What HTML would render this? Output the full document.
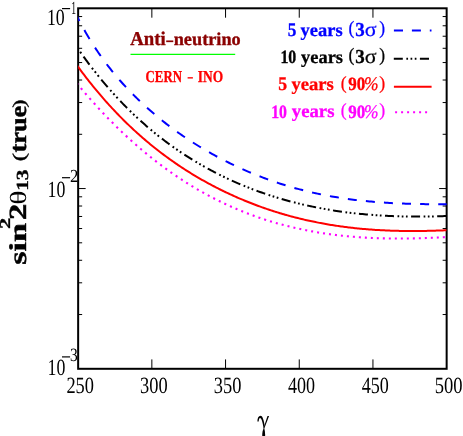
<!DOCTYPE html>
<html><head><meta charset="utf-8"><title>sensitivity plot</title>
<style>html,body{margin:0;padding:0;background:#fff}svg{display:block}text{font-family:"Liberation Serif",serif;text-rendering:geometricPrecision}</style></head>
<body>
<svg width="463" height="436" viewBox="0 0 463 436">
<rect width="463" height="436" fill="#fff"/>
<defs><clipPath id="c"><rect x="78.15" y="8.3" width="368.50" height="360.50"/></clipPath></defs>
<path d="M78.15 188.55h7.5M446.65 188.55h-7.5M78.15 134.29h4M446.65 134.29h-4M78.15 102.55h4M446.65 102.55h-4M78.15 80.03h4M446.65 80.03h-4M78.15 62.56h4M446.65 62.56h-4M78.15 48.29h4M446.65 48.29h-4M78.15 36.22h4M446.65 36.22h-4M78.15 25.77h4M446.65 25.77h-4M78.15 16.55h4M446.65 16.55h-4M78.15 314.54h4M446.65 314.54h-4M78.15 282.80h4M446.65 282.80h-4M78.15 260.28h4M446.65 260.28h-4M78.15 242.81h4M446.65 242.81h-4M78.15 228.54h4M446.65 228.54h-4M78.15 216.47h4M446.65 216.47h-4M78.15 206.02h4M446.65 206.02h-4M78.15 196.80h4M446.65 196.80h-4M151.85 8.3v9.4M151.85 368.8v-9.4M225.55 8.3v9.4M225.55 368.8v-9.4M299.25 8.3v9.4M299.25 368.8v-9.4M372.95 8.3v9.4M372.95 368.8v-9.4" stroke="#000" stroke-width="1" fill="none"/>
<rect x="78.15" y="8.3" width="368.50" height="360.50" fill="none" stroke="#000" stroke-width="2"/>
<g clip-path="url(#c)" fill="none" stroke-width="2">
<path d="M68.24 72.63 L69.62 74.36 M72.39 77.83 L73.08 78.69 L73.78 79.55 M76.58 82.98 L77.28 83.83 L77.99 84.68 M80.82 88.07 L81.53 88.92 L82.24 89.76 M85.10 93.11 L85.82 93.95 L86.54 94.78 M89.43 98.09 L90.16 98.92 L90.89 99.74 M93.81 103.02 L94.55 103.83 L95.28 104.64 M98.24 107.88 L98.98 108.68 L99.73 109.48 M102.71 112.67 L103.46 113.47 L104.22 114.26 M107.24 117.41 L107.99 118.19 L108.75 118.97 M111.81 122.07 L112.57 122.84 L113.34 123.61 M116.43 126.66 L117.20 127.42 L117.98 128.18 M121.09 131.19 L121.88 131.93 L122.66 132.68 M125.81 135.64 L126.60 136.37 L127.40 137.10 M130.58 140.01 L131.38 140.73 L132.18 141.45 M135.39 144.31 L136.20 145.01 L137.01 145.72 M140.26 148.52 L141.07 149.22 L141.89 149.91 M145.17 152.65 L145.99 153.33 L146.82 154.01 M150.13 156.70 L150.96 157.37 L151.80 158.03 M155.14 160.67 L155.98 161.32 L156.82 161.97 M160.20 164.54 L161.05 165.18 L161.90 165.81 M165.30 168.32 L166.16 168.95 L167.02 169.56 M170.45 172.02 L171.32 172.62 L172.18 173.23 M175.65 175.61 L176.52 176.20 L177.39 176.79 M180.89 179.12 L181.77 179.69 L182.65 180.26 M186.18 182.52 L187.07 183.08 L187.95 183.63 M191.51 185.83 L192.40 186.37 L193.30 186.91 M196.88 189.03 L197.78 189.56 L198.68 190.08 M202.30 192.13 L203.20 192.64 L204.11 193.15 M207.75 195.14 L208.66 195.63 L209.58 196.11 M213.24 198.03 L214.16 198.50 L215.08 198.97 M218.78 200.82 L219.70 201.28 L220.63 201.73 M224.34 203.51 L225.27 203.95 L226.21 204.38 M229.94 206.09 L230.88 206.51 L231.82 206.93 M235.58 208.56 L236.52 208.97 L237.46 209.37 M241.24 210.93 L242.19 211.32 L243.14 211.70 M246.94 213.19 L247.89 213.56 L248.85 213.92 M252.67 215.35 L253.62 215.70 L254.58 216.04 M258.42 217.40 L259.38 217.73 L260.34 218.06 M264.19 219.34 L265.16 219.65 L266.13 219.96 M270.00 221.18 L270.96 221.47 L271.93 221.77 M275.82 222.91 L276.79 223.19 L277.76 223.47 M281.66 224.54 L283.61 225.07 M287.53 226.08 L288.50 226.32 L289.48 226.56 M293.41 227.51 L294.39 227.74 L295.37 227.96 M299.30 228.84 L300.29 229.05 L301.27 229.26 M305.21 230.08 L306.20 230.27 L307.19 230.47 M311.14 231.22 L312.13 231.40 L313.11 231.58 M317.07 232.27 L318.06 232.43 L319.05 232.60 M323.02 233.23 L324.01 233.38 L325.00 233.53 M328.98 234.10 L329.97 234.23 L330.96 234.37 M334.94 234.88 L335.93 235.00 L336.93 235.12 M340.91 235.58 L341.91 235.69 L342.90 235.80 M346.89 236.20 L347.89 236.30 L348.88 236.39 M352.87 236.74 L353.87 236.82 L354.87 236.91 M358.86 237.21 L359.86 237.28 L360.86 237.35 M364.85 237.60 L365.85 237.66 L366.85 237.71 M370.84 237.92 L371.84 237.97 L372.84 238.01 M376.84 238.17 L377.84 238.21 L378.84 238.24 M382.84 238.36 L383.84 238.39 L384.84 238.41 M388.84 238.49 L389.84 238.50 L390.84 238.52 M394.84 238.56 L395.84 238.56 L396.84 238.57 M400.84 238.57 L401.84 238.56 L402.84 238.56 M406.84 238.52 L407.84 238.51 L408.84 238.50 M412.84 238.43 L413.84 238.41 L414.84 238.38 M418.84 238.28 L419.83 238.26 L420.83 238.23 M424.83 238.10 L425.83 238.06 L426.83 238.02 M430.83 237.86 L431.83 237.82 L432.83 237.78 M436.83 237.59 L437.82 237.54 L438.82 237.49 M442.82 237.28 L443.82 237.23 L444.82 237.17" stroke="#ff00ff" stroke-width="2.1"/>
<path d="M76.33 64.42 L77.60 66.17 L78.88 67.91 L80.15 69.63 L81.42 71.34 L82.70 73.03 L83.97 74.71 L85.24 76.37 L86.51 78.02 L87.79 79.65 L89.06 81.27 L90.33 82.87 L91.60 84.46 L92.88 86.04 L94.15 87.60 L95.42 89.15 L96.70 90.68 L97.97 92.21 L99.24 93.71 L100.51 95.21 L101.79 96.69 L103.06 98.15 L104.33 99.61 L105.60 101.05 L106.88 102.48 L108.15 103.89 L109.42 105.30 L110.70 106.69 L111.97 108.07 L113.24 109.43 L114.51 110.79 L115.79 112.13 L117.06 113.46 L118.33 114.78 L119.60 116.08 L120.88 117.38 L122.15 118.66 L123.42 119.93 L124.70 121.19 L125.97 122.44 L127.24 123.68 L128.51 124.90 L129.79 126.12 L131.06 127.32 L132.33 128.52 L133.60 129.70 L134.88 130.87 L136.15 132.03 L137.42 133.19 L138.70 134.33 L139.97 135.46 L141.24 136.58 L142.51 137.69 L143.79 138.79 L145.06 139.88 L146.33 140.96 L147.60 142.03 L148.88 143.10 L150.15 144.15 L151.42 145.19 L152.70 146.22 L153.97 147.25 L155.24 148.26 L156.51 149.27 L157.79 150.27 L159.06 151.25 L160.33 152.23 L161.60 153.20 L162.88 154.16 L164.15 155.12 L165.42 156.06 L166.70 157.00 L167.97 157.92 L169.24 158.84 L170.51 159.75 L171.79 160.66 L173.06 161.55 L174.33 162.44 L175.60 163.32 L176.88 164.19 L178.15 165.05 L179.42 165.90 L180.70 166.75 L181.97 167.59 L183.24 168.42 L184.51 169.24 L185.79 170.06 L187.06 170.87 L188.33 171.67 L189.60 172.47 L190.88 173.25 L192.15 174.03 L193.42 174.81 L194.70 175.57 L195.97 176.33 L197.24 177.09 L198.51 177.83 L199.79 178.57 L201.06 179.30 L202.33 180.03 L203.60 180.74 L204.88 181.46 L206.15 182.16 L207.42 182.86 L208.70 183.55 L209.97 184.24 L211.24 184.92 L212.51 185.59 L213.79 186.26 L215.06 186.92 L216.33 187.57 L217.60 188.22 L218.88 188.86 L220.15 189.50 L221.42 190.13 L222.70 190.75 L223.97 191.37 L225.24 191.98 L226.51 192.59 L227.79 193.19 L229.06 193.78 L230.33 194.37 L231.60 194.96 L232.88 195.53 L234.15 196.10 L235.42 196.67 L236.70 197.23 L237.97 197.79 L239.24 198.34 L240.51 198.88 L241.79 199.42 L243.06 199.95 L244.33 200.48 L245.60 201.00 L246.88 201.52 L248.15 202.03 L249.42 202.54 L250.70 203.04 L251.97 203.54 L253.24 204.03 L254.51 204.52 L255.79 205.00 L257.06 205.47 L258.33 205.94 L259.60 206.41 L260.88 206.87 L262.15 207.32 L263.42 207.77 L264.70 208.22 L265.97 208.66 L267.24 209.09 L268.51 209.52 L269.79 209.95 L271.06 210.37 L272.33 210.78 L273.60 211.19 L274.88 211.60 L276.15 212.00 L277.42 212.40 L278.70 212.79 L279.97 213.17 L281.24 213.55 L282.51 213.93 L283.79 214.30 L285.06 214.67 L286.33 215.03 L287.60 215.39 L288.88 215.74 L290.15 216.09 L291.42 216.43 L292.70 216.77 L293.97 217.11 L295.24 217.44 L296.51 217.76 L297.79 218.08 L299.06 218.40 L300.33 218.71 L301.60 219.02 L302.88 219.32 L304.15 219.62 L305.42 219.91 L306.70 220.20 L307.97 220.49 L309.24 220.77 L310.51 221.04 L311.79 221.31 L313.06 221.58 L314.33 221.85 L315.60 222.10 L316.88 222.36 L318.15 222.61 L319.42 222.86 L320.70 223.10 L321.97 223.34 L323.24 223.57 L324.51 223.80 L325.79 224.03 L327.06 224.25 L328.33 224.47 L329.60 224.68 L330.88 224.89 L332.15 225.09 L333.42 225.30 L334.70 225.49 L335.97 225.69 L337.24 225.88 L338.51 226.06 L339.79 226.25 L341.06 226.42 L342.33 226.60 L343.60 226.77 L344.88 226.94 L346.15 227.10 L347.42 227.26 L348.70 227.42 L349.97 227.57 L351.24 227.72 L352.51 227.86 L353.79 228.00 L355.06 228.14 L356.33 228.27 L357.60 228.41 L358.88 228.53 L360.15 228.66 L361.42 228.78 L362.70 228.89 L363.97 229.01 L365.24 229.12 L366.51 229.22 L367.79 229.33 L369.06 229.43 L370.33 229.52 L371.60 229.62 L372.88 229.71 L374.15 229.79 L375.42 229.88 L376.70 229.96 L377.97 230.03 L379.24 230.11 L380.51 230.18 L381.79 230.25 L383.06 230.31 L384.33 230.37 L385.60 230.43 L386.88 230.49 L388.15 230.54 L389.42 230.59 L390.70 230.64 L391.97 230.68 L393.24 230.72 L394.51 230.76 L395.79 230.80 L397.06 230.83 L398.33 230.86 L399.60 230.89 L400.88 230.91 L402.15 230.93 L403.42 230.95 L404.70 230.97 L405.97 230.98 L407.24 231.00 L408.51 231.01 L409.79 231.01 L411.06 231.02 L412.33 231.02 L413.60 231.02 L414.88 231.01 L416.15 231.01 L417.42 231.00 L418.70 230.99 L419.97 230.98 L421.24 230.96 L422.51 230.94 L423.79 230.92 L425.06 230.90 L426.33 230.88 L427.60 230.85 L428.88 230.82 L430.15 230.79 L431.42 230.76 L432.70 230.73 L433.97 230.69 L435.24 230.65 L436.51 230.61 L437.79 230.57 L439.06 230.52 L440.33 230.48 L441.60 230.43 L442.88 230.38 L444.15 230.33 L445.42 230.27 L446.70 230.22" stroke="#ff0000"/>
<path d="M66.99 32.34 L68.10 34.05 L69.20 35.75 L70.32 37.45 L71.43 39.14 L72.56 40.83 M74.79 44.14 L75.87 45.72 M77.46 48.03 L78.55 49.60 M80.16 51.89 L81.27 53.44 M83.52 56.58 L84.70 58.20 L85.89 59.83 L87.09 61.44 L88.29 63.05 L89.50 64.65 M91.90 67.79 L93.05 69.28 M94.76 71.47 L95.93 72.95 M97.66 75.12 L98.85 76.58 M101.27 79.54 L102.54 81.07 L103.81 82.59 L105.09 84.11 L106.38 85.61 L107.68 87.12 M110.25 90.06 L111.48 91.45 M113.32 93.49 L114.57 94.87 M116.42 96.89 L117.68 98.25 M120.27 101.00 L121.62 102.42 L122.99 103.83 L124.35 105.23 L125.73 106.63 L127.11 108.01 M129.85 110.72 L131.17 112.01 M133.12 113.89 L134.45 115.15 M136.42 117.00 L137.76 118.25 M140.51 120.76 L141.95 122.06 L143.39 123.34 L144.84 124.62 L146.30 125.89 L147.76 127.15 M150.66 129.61 L152.06 130.77 M154.12 132.47 L155.53 133.61 M157.60 135.28 L159.02 136.41 M161.92 138.66 L163.43 139.82 L164.96 140.98 L166.48 142.12 L168.01 143.26 L169.55 144.38 M172.59 146.57 L174.06 147.61 M176.22 149.12 L177.69 150.14 M179.87 151.62 L181.35 152.61 M184.38 154.60 L185.96 155.63 L187.55 156.65 L189.14 157.66 L190.74 158.65 L192.34 159.64 M195.50 161.56 L197.03 162.47 M199.27 163.79 L200.80 164.68 M203.06 165.97 L204.60 166.83 M207.73 168.57 L209.37 169.46 L211.02 170.34 L212.66 171.21 L214.31 172.07 L215.97 172.93 M219.24 174.58 L220.81 175.36 M223.12 176.50 L224.70 177.26 M227.02 178.36 L228.61 179.10 M231.83 180.58 L233.52 181.34 L235.20 182.09 L236.90 182.83 L238.59 183.56 L240.29 184.28 M243.64 185.68 L245.25 186.34 M247.62 187.29 L249.23 187.93 M251.61 188.85 L253.23 189.47 M256.53 190.70 L258.25 191.33 L259.97 191.95 L261.70 192.56 L263.43 193.17 L265.16 193.76 M268.58 194.91 L270.22 195.45 M272.63 196.22 L274.27 196.74 M276.70 197.49 L278.34 197.99 M281.69 198.98 L283.44 199.49 L285.19 199.98 L286.95 200.47 L288.70 200.95 L290.46 201.42 M293.93 202.33 L295.59 202.75 M298.04 203.36 L299.71 203.77 M302.16 204.35 L303.83 204.74 M307.22 205.50 L308.99 205.89 L310.76 206.27 L312.53 206.64 L314.31 207.00 L316.08 207.36 M319.59 208.04 L321.27 208.36 M323.74 208.81 L325.42 209.11 M327.89 209.54 L329.58 209.82 M333.00 210.37 L334.78 210.65 L336.57 210.92 L338.35 211.19 L340.14 211.45 L341.93 211.70 M345.46 212.17 L347.15 212.39 M349.63 212.70 L351.33 212.90 M353.81 213.19 L355.51 213.38 M358.94 213.74 L360.74 213.92 L362.53 214.10 L364.33 214.26 L366.12 214.43 L367.92 214.58 M371.46 214.87 L373.15 215.00 M375.65 215.18 L377.35 215.30 M379.84 215.46 L381.54 215.56 M384.99 215.76 L386.79 215.85 L388.58 215.94 L390.38 216.02 L392.18 216.10 L393.98 216.17 M397.53 216.29 L399.23 216.34 M401.73 216.41 L403.43 216.45 M405.93 216.50 L407.63 216.53 M411.08 216.58 L412.88 216.59 L414.68 216.61 L416.48 216.61 L418.28 216.61 L420.08 216.61 M423.63 216.59 L425.33 216.57 M427.83 216.54 L429.53 216.52 M432.03 216.47 L433.73 216.44 M437.18 216.35 L438.98 216.30 L440.77 216.24 L442.57 216.18 L444.37 216.12 L446.17 216.05" stroke="#000"/>
<path d="M66.15 -6.82 L66.95 -4.99 L67.75 -3.16 L68.56 -1.35 L69.38 0.47 L70.21 2.28 M74.72 11.76 L75.64 13.62 L76.57 15.47 L77.51 17.31 L78.45 19.15 L79.41 20.97 M84.40 30.11 L85.41 31.89 L86.44 33.67 L87.47 35.44 L88.52 37.19 L89.57 38.94 M95.06 47.65 L96.18 49.35 L97.30 51.03 L98.44 52.71 L99.59 54.37 L100.74 56.03 M106.74 64.25 L107.95 65.84 L109.18 67.42 L110.41 68.99 L111.65 70.56 L112.90 72.11 M119.37 79.79 L120.68 81.28 L121.99 82.76 L123.31 84.22 L124.64 85.68 L125.98 87.13 M132.85 94.28 L134.23 95.66 L135.62 97.04 L137.02 98.40 L138.42 99.76 L139.83 101.10 M147.04 107.76 L148.49 109.05 L149.94 110.33 L151.39 111.60 L152.86 112.86 L154.32 114.11 M161.83 120.28 L163.33 121.48 L164.83 122.66 L166.34 123.84 L167.86 125.00 L169.38 126.16 M177.14 131.86 L178.69 132.96 L180.24 134.05 L181.80 135.13 L183.36 136.20 L184.93 137.27 M192.92 142.50 L194.51 143.51 L196.10 144.51 L197.70 145.50 L199.31 146.48 L200.91 147.45 M209.09 152.24 L210.72 153.16 L212.36 154.07 L213.99 154.97 L215.63 155.86 L217.27 156.75 M225.62 161.10 L227.28 161.93 L228.94 162.76 L230.61 163.57 L232.28 164.38 L233.95 165.18 M242.44 169.11 L244.13 169.86 L245.82 170.60 L247.51 171.33 L249.21 172.05 L250.91 172.77 M259.53 176.26 L261.24 176.92 L262.96 177.58 L264.68 178.22 L266.40 178.86 L268.12 179.49 M276.86 182.54 L278.59 183.11 L280.33 183.68 L282.07 184.24 L283.81 184.79 L285.55 185.33 M294.39 187.93 L296.14 188.42 L297.90 188.90 L299.65 189.37 L301.41 189.83 L303.17 190.28 M312.09 192.44 L313.86 192.85 L315.63 193.24 L317.40 193.62 L319.17 194.00 L320.95 194.37 M329.93 196.11 L331.71 196.43 L333.49 196.74 L335.27 197.05 L337.06 197.34 L338.84 197.63 M347.87 198.98 L349.66 199.22 L351.45 199.46 L353.24 199.69 L355.03 199.91 L356.82 200.12 M365.88 201.11 L367.68 201.29 L369.47 201.45 L371.27 201.62 L373.06 201.77 L374.86 201.92 M383.94 202.60 L385.74 202.71 L387.54 202.82 L389.33 202.93 L391.13 203.03 L392.93 203.13 M402.02 203.54 L403.82 203.60 L405.62 203.67 L407.42 203.73 L409.22 203.78 L411.02 203.84 M420.12 204.05 L421.92 204.08 L423.72 204.11 L425.52 204.13 L427.32 204.16 L429.12 204.18 M438.22 204.25 L440.02 204.26 L441.82 204.27 L443.62 204.28 L445.42 204.28 L447.22 204.29" stroke="#0000ff"/>
</g>
<g opacity="0.999">
<text transform="translate(66.42 392.67) scale(1.000 1.263)" font-size="18.41" fill="#000">250</text>
<text transform="translate(140.07 392.67) scale(1.000 1.261)" font-size="18.45" fill="#000">300</text>
<text transform="translate(213.77 392.67) scale(1.000 1.261)" font-size="18.45" fill="#000">350</text>
<text transform="translate(287.99 392.67) scale(1.000 1.285)" font-size="18.09" fill="#000">400</text>
<text transform="translate(361.69 392.67) scale(1.000 1.285)" font-size="18.09" fill="#000">450</text>
<text transform="translate(434.68 392.67) scale(1.000 1.252)" font-size="18.58" fill="#000">500</text>
<text transform="translate(46.94 24.57) scale(1.000 1.300)" font-size="17.83" fill="#000">10</text>
<path d="M62 8.6H70.1" stroke="#000" stroke-width="1.2"/>
<text transform="translate(71.26 13.50) scale(1.000 1.916)" font-size="9.65" fill="#000">1</text>
<text transform="translate(47.54 196.87) scale(1.000 1.305)" font-size="17.83" fill="#000">10</text>
<path d="M62 177.7H70.1" stroke="#000" stroke-width="1.2"/>
<text transform="translate(70.05 182.30) scale(1.000 1.099)" font-size="16.75" fill="#000">2</text>
<text transform="translate(47.54 375.17) scale(1.000 1.305)" font-size="17.83" fill="#000">10</text>
<path d="M62 356.9H70.1" stroke="#000" stroke-width="1.2"/>
<text transform="translate(70.06 361.21) scale(1.000 1.208)" font-size="15.52" fill="#000">3</text>
<g aria-label="γ"><path d="M257.4 421.6C257.3 418 258.7 415.8 260.5 415.8C262.4 415.8 263.5 419 264.7 425.3L263.7 428.6C262.7 422.6 261.7 418.6 260.2 418C259.3 417.8 258.9 419.2 258.7 421.6Z" fill="#000"/><path d="M267.5 416L269.1 416L264.3 428.4L263.4 428.4Z" fill="#000"/><path d="M263.9 428C262.6 430.5 262 432.5 262.3 437L265.1 437C265.2 432.5 264.9 430.5 264.1 428Z" fill="#000"/></g>
<text transform="translate(25.86 264.72) rotate(-90) scale(1.404 1.000)" font-size="24.26" font-weight="bold" fill="#000" stroke="#000" stroke-width="0.45">sin</text>
<text transform="translate(10.30 229.05) rotate(-90) scale(1.485 1.000)" font-size="15.09" font-weight="bold" fill="#000" stroke="#000" stroke-width="0.315">2</text>
<text transform="translate(25.90 219.88) rotate(-90) scale(1.322 1.000)" font-size="24.60" font-weight="bold" fill="#000" stroke="#000" stroke-width="0.45">2</text>
<text transform="translate(25.97 204.71) rotate(-90) scale(1.280 1.000)" font-size="23.24" fill="#000">θ</text>
<text transform="translate(27.63 190.81) rotate(-90) scale(1.260 1.000)" font-size="16.95" font-weight="bold" fill="#000" stroke="#000" stroke-width="0.315">13</text>
<text transform="translate(24.66 161.33) rotate(-90) scale(1.389 1.000)" font-size="18.07" fill="#000" stroke="#000" stroke-width="0.35">(</text>
<text transform="translate(25.81 152.60) rotate(-90) scale(1.138 1.000)" font-size="23.20" font-weight="bold" fill="#000" stroke="#000" stroke-width="0.45">true</text>
<text transform="translate(24.66 107.81) rotate(-90) scale(1.375 1.000)" font-size="18.07" fill="#000" stroke="#000" stroke-width="0.35">)</text>
<text transform="translate(130.31 44.70) scale(1.000 1.041)" font-size="18.77" font-weight="bold" fill="#8b0000" stroke="#8b0000" stroke-width="0.35">Anti</text>
<path d="M166.2 41.3H173.3" stroke="#8b0000" stroke-width="1.7"/>
<text transform="translate(173.70 44.70) scale(1.000 0.989)" font-size="18.29" font-weight="bold" fill="#8b0000" stroke="#8b0000" stroke-width="0.35">neutrino</text>
<path d="M130.5 54.4H235.2" stroke="#00ff00" stroke-width="1.2"/>
<text transform="translate(145.56 82.03) scale(1.000 1.297)" font-size="12.84" font-weight="bold" fill="#ff0000" stroke="#ff0000" stroke-width="0.25">CERN</text>
<path d="M187.6 77.85H192.9" stroke="#ff0000" stroke-width="1.4"/>
<text transform="translate(197.86 82.03) scale(1.000 1.241)" font-size="13.43" font-weight="bold" fill="#ff0000" stroke="#ff0000" stroke-width="0.25">INO</text>
<text transform="translate(287.71 35.81) scale(1.000 1.105)" font-size="17.28" font-weight="bold" fill="#0000ff" stroke="#0000ff" stroke-width="0.3">5</text>
<text transform="translate(300.62 35.56) scale(1.000 0.993)" font-size="18.46" font-weight="bold" fill="#0000ff" stroke="#0000ff" stroke-width="0.3">years</text>
<text transform="translate(348.61 34.00) scale(1.000 1.068)" font-size="17.65" fill="#0000ff" stroke="#0000ff" stroke-width="0.25">(</text>
<text transform="translate(355.19 35.90) scale(1.000 1.044)" font-size="18.95" font-weight="bold" fill="#0000ff" stroke="#0000ff" stroke-width="0.3">3</text>
<text transform="translate(364.68 35.80) scale(1.000 0.924)" font-size="21.95" fill="#0000ff" stroke="#0000ff" stroke-width="0.25">σ</text>
<text transform="translate(379.33 34.00) scale(1.000 1.078)" font-size="17.48" fill="#0000ff" stroke="#0000ff" stroke-width="0.25">)</text>
<text transform="translate(280.43 63.11) scale(1.000 1.186)" font-size="15.86" font-weight="bold" fill="#000" stroke="#000" stroke-width="0.3">10</text>
<text transform="translate(301.02 62.86) scale(1.000 0.993)" font-size="18.46" font-weight="bold" fill="#000" stroke="#000" stroke-width="0.3">years</text>
<text transform="translate(348.61 61.30) scale(1.000 1.068)" font-size="17.65" fill="#000" stroke="#000" stroke-width="0.25">(</text>
<text transform="translate(355.19 63.20) scale(1.000 1.044)" font-size="18.95" font-weight="bold" fill="#000" stroke="#000" stroke-width="0.3">3</text>
<text transform="translate(364.68 63.10) scale(1.000 0.924)" font-size="21.95" fill="#000" stroke="#000" stroke-width="0.25">σ</text>
<text transform="translate(379.33 61.30) scale(1.000 1.078)" font-size="17.48" fill="#000" stroke="#000" stroke-width="0.25">)</text>
<text transform="translate(278.19 90.31) scale(1.000 1.076)" font-size="17.75" font-weight="bold" fill="#ff0000" stroke="#ff0000" stroke-width="0.3">5</text>
<text transform="translate(291.41 90.06) scale(1.000 0.986)" font-size="18.60" font-weight="bold" fill="#ff0000" stroke="#ff0000" stroke-width="0.3">years</text>
<text transform="translate(340.71 89.09) scale(1.000 1.043)" font-size="17.65" fill="#ff0000" stroke="#ff0000" stroke-width="0.25">(</text>
<text transform="translate(348.13 90.31) scale(1.000 1.106)" font-size="17.01" font-weight="bold" fill="#ff0000" stroke="#ff0000" stroke-width="0.3">90</text>
<text transform="translate(364.00 90.36) scale(1.000 1.101)" font-size="17.42" font-style="italic" fill="#ff0000" stroke="#ff0000" stroke-width="0.25">%</text>
<text transform="translate(379.32 89.09) scale(1.000 1.030)" font-size="17.86" fill="#ff0000" stroke="#ff0000" stroke-width="0.25">)</text>
<text transform="translate(271.24 117.61) scale(1.000 1.195)" font-size="15.75" font-weight="bold" fill="#ff00ff" stroke="#ff00ff" stroke-width="0.3">10</text>
<text transform="translate(291.81 117.36) scale(1.000 0.979)" font-size="18.73" font-weight="bold" fill="#ff00ff" stroke="#ff00ff" stroke-width="0.3">years</text>
<text transform="translate(340.71 116.39) scale(1.000 1.043)" font-size="17.65" fill="#ff00ff" stroke="#ff00ff" stroke-width="0.25">(</text>
<text transform="translate(348.13 117.61) scale(1.000 1.106)" font-size="17.01" font-weight="bold" fill="#ff00ff" stroke="#ff00ff" stroke-width="0.3">90</text>
<text transform="translate(364.00 117.66) scale(1.000 1.101)" font-size="17.42" font-style="italic" fill="#ff00ff" stroke="#ff00ff" stroke-width="0.25">%</text>
<text transform="translate(379.32 116.39) scale(1.000 1.030)" font-size="17.86" fill="#ff00ff" stroke="#ff00ff" stroke-width="0.25">)</text>
<path d="M393.9 30.4h9.1m8.9 0h9m8.9 0h1.7" stroke="#0000ff" stroke-width="2" fill="none"/>
<path d="M393.8 58.65h9m3.55 0h1.7m2.5 0h1.7m2.5 0h1.7m3.45 0h9.1" stroke="#000" stroke-width="2" fill="none"/>
<path d="M393.9 86.8H431.6" stroke="#ff0000" stroke-width="2" fill="none"/>
<path d="M395.1 112.3h2m4 0h2m4 0h2m4 0h2m4 0h2m4 0h2" stroke="#ff00ff" stroke-width="2.1" fill="none"/>
</g>
</svg></body></html>
